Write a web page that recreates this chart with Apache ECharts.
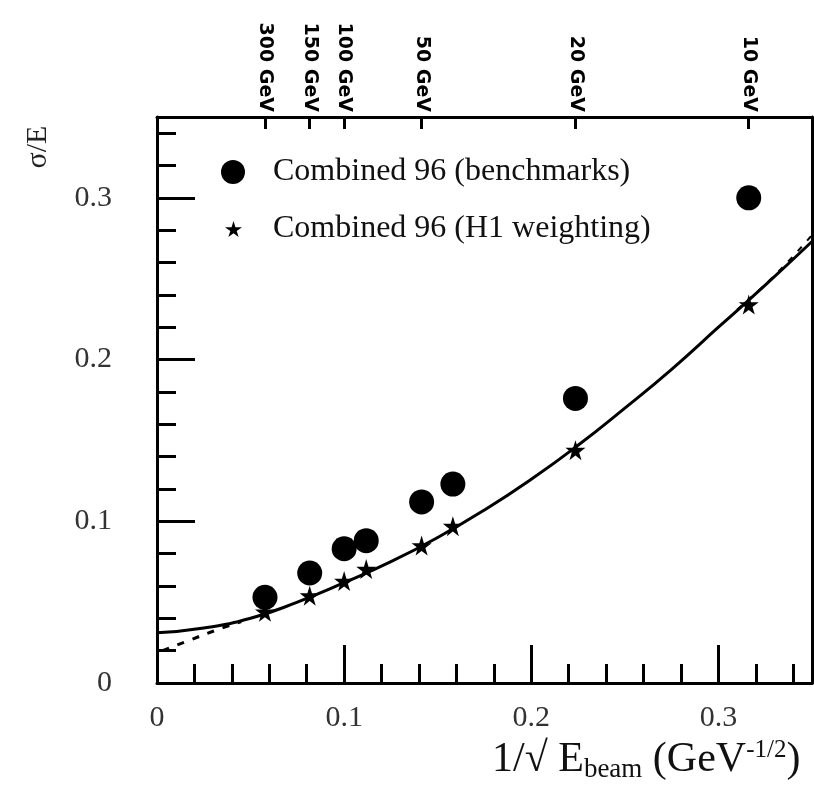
<!DOCTYPE html>
<html>
<head>
<meta charset="utf-8">
<title>sigma/E vs 1/sqrt(E)</title>
<script src="https://cdn.jsdelivr.net/npm/echarts@6/dist/echarts.min.js"></script>
<style>
  html, body { margin: 0; padding: 0; background: #fff; }
  #main { width: 814px; height: 790px; }
</style>
</head>
<body>
<div id="main"></div>
<script>
// beam energies (top axis) and their 1/sqrt(E) positions
const topLabels = ['300 GeV', '150 GeV', '100 GeV', '50 GeV', '20 GeV', '10 GeV']
const topTickPos = [0.0577, 0.0816, 0.1, 0.1414, 0.2236, 0.3162]

// tick labels
const xTickVals = [0, 0.1, 0.2, 0.3]
const yTickVals = [0, 0.1, 0.2, 0.3]

// measured points, x = 1/sqrt(E)
const pointX = [0.0577, 0.0816, 0.1, 0.1118, 0.1414, 0.1581, 0.2236, 0.3162]
const benchY = [0.053, 0.068, 0.083, 0.088, 0.112, 0.123, 0.176, 0.300]
const h1Y = [0.044, 0.054, 0.063, 0.0705, 0.085, 0.097, 0.144, 0.234]

// fitted curve (solid)
const fitX = [0, 0.025, 0.05, 0.075, 0.1, 0.125, 0.15, 0.175, 0.2, 0.225, 0.25, 0.275, 0.3, 0.325, 0.35]
const fitY = [0.031, 0.034, 0.040, 0.050, 0.062, 0.075, 0.090, 0.107, 0.126, 0.147, 0.170, 0.194, 0.220, 0.246, 0.273]
// second (dashed) curve, only visible where it leaves the solid one
const dashLowX = [0.003, 0.0175, 0.03, 0.045]
const dashLowY = [0.020, 0.0265, 0.032, 0.038]
const dashHighX = [0.31, 0.33, 0.35]
const dashHighY = [0.231, 0.252, 0.277]

const serif = 'Liberation Serif'
const starPath = 'path://M50,0 L61,35 L98,35 L68,57 L79,91 L50,70 L21,91 L32,57 L2,35 L39,35 Z'

function zip (xs, ys) {
  return xs.map((x, i) => [x, ys[i]])
}

let chartDom = document.getElementById('main')
let myChart = echarts.init(chartDom)
let option = {
  animation: false,
  backgroundColor: '#fff',
  grid: {
    left: 157,
    top: 117,
    width: 655,
    height: 566
  },
  legend: [
    {
      orient: 'vertical',
      left: 216,
      top: 151,
      itemWidth: 24,
      itemHeight: 24,
      data: [{ name: 'Combined 96 (benchmarks)', icon: 'circle', itemStyle: { color: '#000', opacity: 1 } }],
      textStyle: { fontFamily: serif, fontSize: 32, color: '#111', padding: [0, 0, 0, 23] }
    },
    {
      orient: 'vertical',
      left: 220,
      top: 208,
      itemWidth: 17,
      itemHeight: 17,
      data: [{ name: 'Combined 96 (H1 weighting)', icon: starPath, itemStyle: { color: '#000', opacity: 1 } }],
      textStyle: { fontFamily: serif, fontSize: 32, color: '#111', padding: [0, 0, 0, 26] }
    }
  ],
  xAxis: [
    {
      // minor ticks, labels and line
      type: 'value',
      position: 'bottom',
      min: 0,
      max: 0.35,
      interval: 0.02,
      axisLine: { onZero: false, lineStyle: { color: '#000', width: 3 } },
      axisTick: { inside: true, length: 19, lineStyle: { color: '#000', width: 3 } },
      axisLabel: {
        customValues: xTickVals,
        margin: 20,
        fontFamily: serif,
        fontSize: 30,
        color: '#333',
        formatter: v => String(v)
      },
      splitLine: { show: false }
    },
    {
      // major ticks
      type: 'value',
      position: 'bottom',
      min: 0,
      max: 0.35,
      axisLine: { show: false, onZero: false },
      axisTick: { inside: true, length: 38, customValues: xTickVals, lineStyle: { color: '#000', width: 3 } },
      axisLabel: { show: false },
      splitLine: { show: false }
    },
    {
      // beam energy axis on top
      type: 'value',
      position: 'top',
      min: 0,
      max: 0.35,
      axisLine: { onZero: false, lineStyle: { color: '#000', width: 3 } },
      axisTick: { inside: true, length: 12, customValues: topTickPos, lineStyle: { color: '#000', width: 3 } },
      axisLabel: {
        customValues: topTickPos,
        rotate: 90,
        margin: 5,
        fontFamily: 'DejaVu Sans',
        fontWeight: 'bold',
        fontSize: 19,
        color: '#000',
        formatter: function (v) {
          let i = topTickPos.findIndex(p => Math.abs(p - v) < 1e-6)
          return i >= 0 ? topLabels[i] : ''
        }
      },
      splitLine: { show: false }
    }
  ],
  yAxis: [
    {
      type: 'value',
      position: 'left',
      min: 0,
      max: 0.35,
      interval: 0.02,
      axisLine: { show: true, onZero: false, lineStyle: { color: '#000', width: 3 } },
      axisTick: { show: true, inside: true, length: 19, lineStyle: { color: '#000', width: 3 } },
      axisLabel: {
        customValues: yTickVals,
        margin: 45,
        fontFamily: serif,
        fontSize: 30,
        color: '#333',
        formatter: v => String(v)
      },
      splitLine: { show: false }
    },
    {
      type: 'value',
      position: 'left',
      min: 0,
      max: 0.35,
      axisLine: { show: false, onZero: false },
      axisTick: { show: true, inside: true, length: 38, customValues: yTickVals, lineStyle: { color: '#000', width: 3 } },
      axisLabel: { show: false },
      splitLine: { show: false }
    },
    {
      type: 'value',
      position: 'right',
      min: 0,
      max: 0.35,
      axisLine: { show: true, onZero: false, lineStyle: { color: '#000', width: 3 } },
      axisTick: { show: false },
      axisLabel: { show: false },
      splitLine: { show: false }
    }
  ],
  graphic: [
    {
      type: 'text',
      left: 492,
      top: 738,
      style: {
        text: '{m|1/\u221A E}{s|beam}{m| (GeV}{u|-1/2}{m|)}',
        fill: '#111',
        rich: {
          m: { fontFamily: serif, fontSize: 42, lineHeight: 48 },
          s: { fontFamily: serif, fontSize: 27, padding: [20, 0, 0, 0] },
          u: { fontFamily: serif, fontSize: 25, padding: [0, 0, 18, 0] }
        }
      }
    },
    {
      type: 'text',
      x: 38,
      y: 147,
      rotation: Math.PI / 2,
      style: {
        text: '\u03C3/E',
        fontFamily: serif,
        fontSize: 30,
        fill: '#222',
        align: 'center',
        verticalAlign: 'middle'
      }
    }
  ],
  series: [
    {
      name: 'fit',
      type: 'line',
      data: zip(fitX, fitY),
      smooth: true,
      showSymbol: false,
      lineStyle: { color: '#000', width: 3 },
      z: 2
    },
    {
      name: 'fitLow',
      type: 'line',
      data: zip(dashLowX, dashLowY),
      smooth: true,
      showSymbol: false,
      lineStyle: { color: '#000', width: 3, type: [7, 9] },
      z: 2
    },
    {
      name: 'fitHigh',
      type: 'line',
      data: zip(dashHighX, dashHighY),
      smooth: true,
      showSymbol: false,
      lineStyle: { color: '#000', width: 2, type: [6, 8] },
      z: 2
    },
    {
      name: 'Combined 96 (benchmarks)',
      type: 'scatter',
      data: zip(pointX, benchY),
      symbol: 'circle',
      symbolSize: 25,
      itemStyle: { color: '#000', opacity: 1 },
      z: 3
    },
    {
      name: 'Combined 96 (H1 weighting)',
      type: 'scatter',
      data: zip(pointX, h1Y),
      symbol: starPath,
      symbolSize: 20,
      itemStyle: { color: '#000', opacity: 1 },
      z: 3
    }
  ]
}
option && myChart.setOption(option)
</script>
</body>
</html>
